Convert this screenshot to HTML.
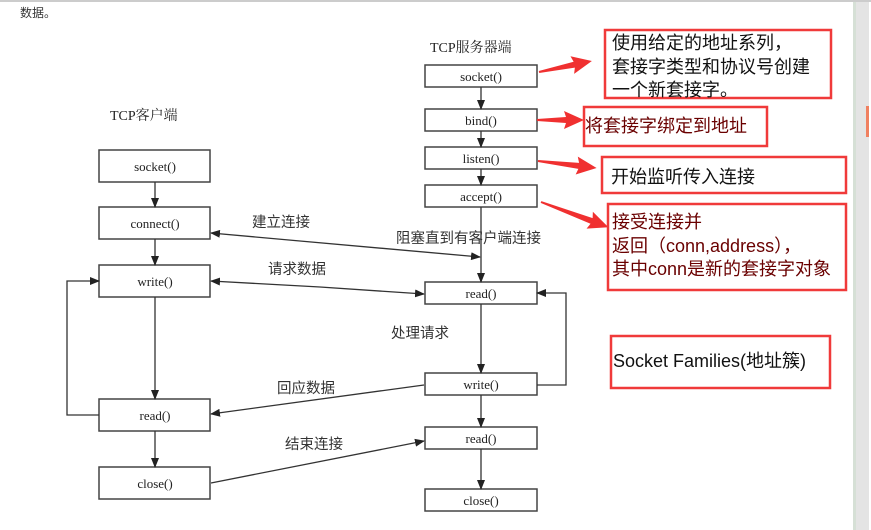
<!DOCTYPE html>
<html><head><meta charset="utf-8"><style>
html,body{margin:0;padding:0;background:#fff;}
svg{display:block;}
.t{font-family:"Liberation Serif","Noto Serif CJK SC",serif;font-size:13px;fill:#222;}
.c{font-family:"Liberation Sans","Noto Sans CJK SC",sans-serif;font-size:14.5px;fill:#333;}
.r{font-family:"Liberation Sans","Noto Sans CJK SC",sans-serif;font-size:18px;fill:#111;}
.rr{font-family:"Liberation Sans","Noto Sans CJK SC",sans-serif;font-size:18px;fill:#6a0000;}
</style></head><body>
<svg width="871" height="530" viewBox="0 0 871 530" xmlns="http://www.w3.org/2000/svg">
<defs>
<marker id="a" markerWidth="10" markerHeight="8" refX="9" refY="4" orient="auto" markerUnits="userSpaceOnUse"><path d="M0,0 L10,4 L0,8 z" fill="#222"/></marker>
</defs>
<rect x="0" y="0" width="871" height="2" fill="#ccc"/>
<rect x="853" y="2" width="16" height="528" fill="#e4e4e4"/>
<rect x="853" y="2" width="3" height="528" fill="#d6e0d6"/>
<rect x="866" y="106" width="3" height="31" fill="#f08060"/>
<text x="20" y="17" class="c" style="font-size:12px">数据。</text>

<text x="110" y="120" class="t" style="font-size:14px">TCP客户端</text>
<text x="430" y="52" class="t" style="font-size:14px">TCP服务器端</text>

<g fill="#fff" stroke="#444" stroke-width="1.5">
<rect x="99" y="150" width="111" height="32"/>
<rect x="99" y="207" width="111" height="32"/>
<rect x="99" y="265" width="111" height="32"/>
<rect x="99" y="399" width="111" height="32"/>
<rect x="99" y="467" width="111" height="32"/>
<rect x="425" y="65" width="112" height="22"/>
<rect x="425" y="109" width="112" height="22"/>
<rect x="425" y="147" width="112" height="22"/>
<rect x="425" y="185" width="112" height="22"/>
<rect x="425" y="282" width="112" height="22"/>
<rect x="425" y="373" width="112" height="22"/>
<rect x="425" y="427" width="112" height="22"/>
<rect x="425" y="489" width="112" height="22"/>
</g>
<g class="t" text-anchor="middle">
<text x="155" y="171">socket()</text>
<text x="155" y="228">connect()</text>
<text x="155" y="286">write()</text>
<text x="155" y="420">read()</text>
<text x="155" y="488">close()</text>
<text x="481" y="81">socket()</text>
<text x="481" y="125">bind()</text>
<text x="481" y="163">listen()</text>
<text x="481" y="201">accept()</text>
<text x="481" y="298">read()</text>
<text x="481" y="389">write()</text>
<text x="481" y="443">read()</text>
<text x="481" y="505">close()</text>
</g>
<g stroke="#333" stroke-width="1.3" fill="none" marker-end="url(#a)">
<line x1="155" y1="182" x2="155" y2="207"/>
<line x1="155" y1="239" x2="155" y2="265"/>
<line x1="155" y1="297" x2="155" y2="399"/>
<line x1="155" y1="431" x2="155" y2="467"/>
<line x1="481" y1="87" x2="481" y2="109"/>
<line x1="481" y1="131" x2="481" y2="147"/>
<line x1="481" y1="169" x2="481" y2="185"/>
<line x1="481" y1="207" x2="481" y2="282"/>
<line x1="481" y1="304" x2="481" y2="373"/>
<line x1="481" y1="395" x2="481" y2="427"/>
<line x1="481" y1="449" x2="481" y2="489"/>
<polyline points="99,415 67,415 67,281 99,281"/>
<polyline points="537,385 566,385 566,293 537,293"/>
<line x1="300" y1="241" x2="480" y2="257"/>
<line x1="300" y1="241" x2="211" y2="233"/>
<line x1="320" y1="287" x2="424" y2="294"/>
<line x1="320" y1="287" x2="211" y2="281"/>
<line x1="424" y1="385" x2="211" y2="414"/>
<line x1="211" y1="483" x2="424" y2="441"/>
</g>
<g class="c">
<text x="252" y="227">建立连接</text>
<text x="396" y="243">阻塞直到有客户端连接</text>
<text x="268" y="274">请求数据</text>
<text x="391" y="338">处理请求</text>
<text x="277" y="393">回应数据</text>
<text x="285" y="449">结束连接</text>
</g>
<g fill="#f03030">
<polygon transform="translate(539,72) rotate(-11.7)" points="0,-1 36,-3 34,-9 54,0 34,9 36,3 0,1"/>
<polygon transform="translate(537,120)" points="0,-1 29,-3 27,-9 47,0 27,9 29,3 0,1"/>
<polygon transform="translate(538,161) rotate(6.8)" points="0,-1 41,-3 39,-9 59,0 39,9 41,3 0,1"/>
<polygon transform="translate(541,202) rotate(20.5)" points="0,-1 54,-3 52,-9 72,0 52,9 54,3 0,1"/>
</g>
<g fill="none" stroke="#f03a3a" stroke-width="2.5">
<rect x="605" y="30" width="226" height="68"/>
<rect x="584" y="107" width="183" height="39"/>
<rect x="602" y="157" width="244" height="36"/>
<rect x="608" y="204" width="238" height="86"/>
<rect x="611" y="336" width="219" height="52"/>
</g>
<g class="r">
<text x="612" y="49">使用给定的地址系列，</text>
<text x="612" y="73">套接字类型和协议号创建</text>
<text x="612" y="96">一个新套接字。</text>
<text x="611" y="183">开始监听传入连接</text>
<text x="613" y="367">Socket Families(地址簇)</text>
</g>
<g class="rr">
<text x="585" y="132">将套接字绑定到地址</text>
<text x="612" y="228">接受连接并</text>
<text x="612" y="252">返回（conn,address），</text>
<text x="612" y="275">其中conn是新的套接字对象</text>
</g>
</svg>
</body></html>
